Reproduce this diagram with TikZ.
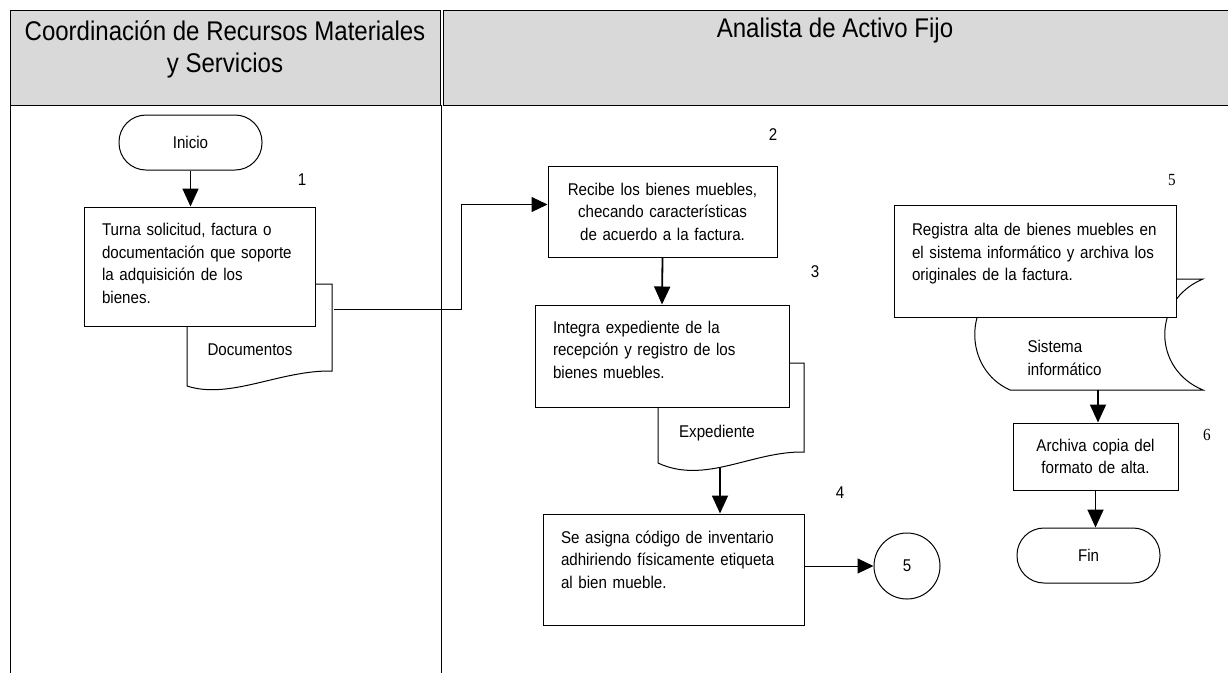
\documentclass[tikz,border=0pt]{standalone}
\usepackage{fontspec}
\setmainfont{Liberation Sans}[FakeStretch=0.89]
\newfontfamily\numfont{Liberation Serif}[FakeStretch=0.89]
\usepackage{tikz}
\usetikzlibrary{arrows.meta,positioning}
\definecolor{headgray}{HTML}{D9D9D9}

\begin{document}
\begin{tikzpicture}[x=1pt, y=-1pt,
        every node/.style={font=\fontsize{17}{22.5}\selectfont},
        proc/.style={draw, fill=white, line width=1pt, inner xsep=18pt, inner ysep=0pt},
        lift/.style={execute at end node={\endgraf\kern#1\relax}},
        term/.style={draw, fill=white, line width=1pt, rounded corners=27pt, minimum width=143pt, minimum height=55pt},
        docshape/.style={draw, fill=white, line width=1pt},
        flow/.style={-{Triangle[length=18pt,width=16pt]}, line width=1.8pt},
        link/.style={-{Triangle[length=16pt,width=15pt]}, line width=1pt},
        lane/.style={draw, line width=0.9pt},
        num/.style={inner sep=0pt}]
        \useasboundingbox (0,0) rectangle (1228,673);

        % Header of the two lanes
        \draw[lane, fill=headgray] (10,10) rectangle (440,105);
        \draw[lane, fill=headgray] (443,10) rectangle (1240,105);
        \draw[lane] (10,105) -- (10,673);
        \draw[lane] (441,105) -- (441,673);
        \node[font=\fontsize{27}{32}\selectfont, align=center] (coord) at (225,49) {Coordinación de Recursos Materiales\\y Servicios};
        \node[font=\fontsize{27}{32}\selectfont] (analista) at (835,31) {Analista de Activo Fijo};

        % Left lane
        \node[term] (inicio) at (190.5,142.5) {Inicio};
        \draw[docshape] (187,284) -- (332,284) -- (332,371) .. controls (280,370) and (230,400) .. (187,386) -- cycle;
        \node (docs) at (250,350) {Documentos};
        \coordinate (docs-e) at (334,309);
        \node[proc, lift=6pt, align=left, text width=195pt, minimum height=119pt] (turna) at (199.5,266.5) {Turna solicitud, factura o\\documentación que soporte\\la adquisición de los\\bienes.};
        \node[num] (n1) at (302,180) {1};

        % Right lane: reception and file
        \node[proc, align=center, text width=193pt, minimum height=91pt] (recibe) at (662.5,211.5) {Recibe los bienes muebles,\\checando características\\de acuerdo a la factura.};
        \node[num] (n2) at (773,135) {2};
        \draw[docshape] (658,363) -- (804,363) -- (804,452) .. controls (752,451) and (705,485) .. (658,463) -- cycle;
        \node (exped) at (717,433) {Expediente};
        \coordinate (exp-bot) at (720,468);
        \node[proc, lift=13pt, align=left, text width=218pt, minimum height=102pt] (integra) at (662,356) {Integra expediente de la\\recepción y registro de los\\bienes muebles.};
        \node[num] (n3) at (815,272) {3};
        \node[proc, lift=20pt, align=left, text width=225pt, minimum height=111pt] (asigna) at (673.5,569.5) {Se asigna código de inventario\\adhiriendo físicamente etiqueta\\al bien mueble.};
        \node[num] (n4) at (840,493) {4};
        \node[draw, circle, line width=1pt, minimum size=66pt, inner sep=0pt, right=69pt of asigna, yshift=3.5pt] (con5) {5};

        % Right lane: system record and end
        \draw[docshape] (1010,279) -- (1203,279) .. controls (1152,300) and (1152,369) .. (1203,390) -- (1010,390) .. controls (963,369) and (963,300) .. (1010,279) -- cycle;
        \node[anchor=west, align=left] (sis) at (1024,358) {Sistema\\informático};
        \coordinate (sis-bot) at (1098,390);
        \node[proc, lift=14pt, align=left, text width=246pt, minimum height=112pt] (registra) at (1035,261) {Registra alta de bienes muebles en\\el sistema informático y archiva los\\originales de la factura.};
        \node[num, font=\numfont\fontsize{17}{22.5}\selectfont] (n5) at (1172,180) {5};
        \node[proc, align=center, text width=129pt, minimum height=67pt] (archiva) at (1095.5,456.5) {Archiva copia del\\formato de alta.};
        \node[num, font=\numfont\fontsize{17}{22.5}\selectfont] (n6) at (1207,435) {6};
        \node[term] (fin) at (1088.5,555.5) {Fin};

        % Connectors
        \coordinate (bend) at (461,309);
        \draw[flow] (inicio.south) -- (inicio.south |- turna.north);
        \draw[link] (docs-e) -- (bend) |- ([yshift=7pt]recibe.west);
        \draw[flow] (recibe.south) -- (integra.north);
        \draw[flow] (exp-bot) -- (exp-bot |- asigna.north);
        \draw[link] (asigna.east |- con5.west) -- (con5.west);
        \draw[flow] (sis-bot) -- (sis-bot |- archiva.north);
        \draw[flow] (archiva.south) -- (archiva.south |- fin.north);
    \end{tikzpicture}
\end{document}
